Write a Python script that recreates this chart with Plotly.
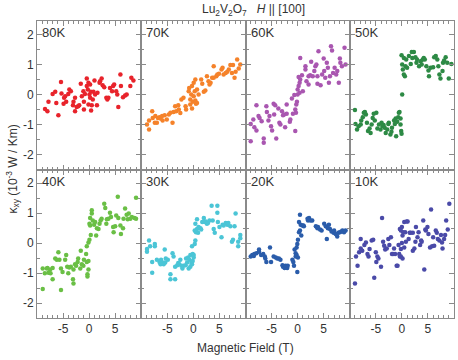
"""Thermal Hall panels for Lu2V2O7, H || [100], one panel per temperature."""
import plotly.graph_objects as go
from plotly.subplots import make_subplots

temps = ["80K", "70K", "60K", "50K", "40K", "30K", "20K", "10K"]
colors = ["#e8232b", "#f5822a", "#a956b0", "#2d8a45",
          "#6abf45", "#4bc5d6", "#2a5caa", "#4a4aa8"]

field_80k = [-8.46, -8.0, -7.8, -6.3, -5.9, -7.0, -6.5, -5.4, -5.3, -4.9, -4.8, -4.4, -4.6, -4.0,
             -3.8, -3.5, -3.1, -3.0, -2.7, -2.4, -2.7, -2.1, -1.9, -1.6, -1.4, -1.1, -1.0, -1.0,
             -0.8, -0.45, -0.45, -0.26, -0.13, -0.13, 0.06, 0.19, 0.19, 0.32, 0.38, 0.51, 0.7,
             0.83, 1.03, 1.15, 1.5, 1.6, 2.0, 2.1, 2.4, 2.6, 2.9, 3.3, 3.5, 3.7, 4.0, 4.4, 4.6,
             4.8, 5.2, 5.4, 5.6, 6.0, 6.1, 6.5, 6.9, 7.2, 7.9, 8.1, 8.5]
kxy_80k = [-0.48, -0.56, -0.24, -0.28, -0.69, 0.02, 0.09, 0.42, 0.03, -0.31, -0.11, -0.24, -0.06,
           0.02, 0.17, 0.11, -0.36, -0.24, -0.56, -0.42, -0.11, -0.39, -0.36, 0.36, -0.06, 0.11,
           -0.5, -0.24, 0.02, 0.53, 0.28, 0.17, 0.39, -0.33, 0.0, 0.33, -0.11, 0.09, -0.53, -0.36,
           -0.17, 0.09, 0.47, 0.0, -0.36, 0.06, 0.39, 0.44, 0.53, 0.31, 0.24, -0.11, -0.17, -0.11,
           0.22, 0.11, 0.28, 0.33, 0.11, 0.0, -0.42, 0.67, 0.28, -0.09, -0.03, 0.0, 0.28, 0.56, 0.47]

field_70k = [-8.9, -8.5, -8.5, -7.9, -7.8, -7.4, -7.3, -7.0, -6.8, -6.5, -6.3, -6.0, -5.9, -5.5,
             -5.1, -4.7, -4.4, -4.0, -3.8, -3.5, -3.3, -2.9, -2.8, -2.5, -2.3, -1.9, -1.5, -1.4,
             -0.9, -0.8, -0.6, -0.6, -0.4, -0.26, -0.26, -0.13, 0.06, 0.06, 0.26, 0.38, 0.38, 0.5,
             0.7, 0.7, 1.0, 1.5, 1.7, 2.0, 2.3, 2.6, 2.9, 3.1, 3.3, 3.6, 3.9, 3.9, 4.4, 4.6, 4.9,
             5.4, 5.6, 5.8, 6.2, 6.5, 6.8, 7.1, 7.4, 7.6, 7.9, 8.1, 8.4, 8.7, 9.0]
kxy_70k = [-1.0, -1.17, -0.87, -0.56, -0.78, -0.94, -0.72, -0.94, -0.78, -0.76, -0.8, -0.72, -0.87,
           -0.69, -0.83, -0.67, -0.61, -0.94, -0.58, -0.39, -0.56, -0.36, -0.5, -0.62, -0.17, -0.11,
           -0.39, -0.5, 0.11, 0.22, -0.17, -0.33, 0.0, 0.28, -0.47, -0.24, 0.39, -0.06, 0.11, -0.2,
           0.5, -0.31, -0.28, 0.17, 0.0, 0.5, 0.36, 0.09, 0.13, 0.61, 0.44, 0.33, 0.39, 0.56, 0.94,
           0.56, 0.61, 0.67, 0.69, 0.83, 0.89, 0.67, 0.72, 0.76, 0.83, 0.98, 0.72, 0.98, 0.56, 0.76,
           1.17, 0.87, 1.0]

field_60k = [-9.0, -9.0, -8.5, -8.3, -7.9, -7.9, -7.5, -7.3, -6.9, -6.5, -6.5, -6.0, -5.9, -5.6,
             -5.4, -5.1, -4.9, -4.6, -4.5, -4.3, -4.1, -3.7, -3.5, -3.3, -3.0, -2.8, -2.6, -2.4,
             -2.1, -2.1, -1.5, -1.4, -1.1, -0.9, -0.64, -0.45, -0.45, -0.32, -0.26, -0.13, 0.0,
             0.0, 0.19, 0.19, 0.38, 0.38, 0.5, 0.5, 0.83, 1.0, 1.5, 1.5, 1.7, 2.1, 2.1, 2.4, 2.6,
             2.9, 3.2, 3.4, 3.6, 3.8, 3.8, 4.0, 4.4, 4.7, 5.0, 5.1, 5.3, 5.6, 5.8, 6.0, 6.2, 6.4,
             6.6, 6.8, 7.1, 7.4, 7.6, 7.9, 8.1, 8.2, 8.5, 9.0, 9.2]
kxy_60k = [-1.56, -0.98, -0.83, -1.09, -1.2, -0.36, -0.72, -0.78, -0.89, -1.47, -1.61, -0.39, -0.58,
           -0.87, -0.72, -1.06, -1.2, -0.31, -0.67, -0.36, -1.47, -0.47, -0.94, -1.0, -0.56, -0.69,
           -0.67, -1.09, -0.64, -0.33, -0.91, -0.83, -0.13, -0.64, -0.02, -1.22, -0.5, -0.61, -0.33,
           -0.24, 0.0, 0.17, 0.28, 0.58, 0.39, 0.06, 0.5, 1.22, 0.64, 0.11, 0.94, 0.83, 0.44, 0.33,
           0.61, 0.64, 1.09, 0.61, 0.78, 0.94, 1.0, 0.61, 0.36, 1.44, 0.31, 0.67, 1.2, 0.78, 0.56,
           1.06, 0.89, 0.39, 0.61, 1.61, 1.47, 0.72, 0.89, 0.67, 0.78, 0.39, 1.2, 1.06, 0.94, 1.56,
           1.0]

field_50k = [-9.0, -8.9, -8.6, -8.3, -7.9, -7.8, -7.5, -7.3, -7.1, -6.9, -6.7, -6.5, -6.2, -6.0,
             -5.8, -5.6, -5.4, -5.2, -4.9, -4.7, -4.4, -4.1, -3.9, -3.7, -3.5, -3.3, -3.1, -2.8,
             -2.6, -2.5, -2.2, -2.0, -1.9, -1.5, -1.35, -1.2, -1.1, -0.9, -0.7, -0.58, -0.45, -0.26,
             -0.26, -0.13, -0.06, 0.06, -0.06, 0.06, 0.19, 0.38, 0.38, 0.58, 0.7, 0.83, 1.0, 1.35,
             1.7, 1.9, 2.0, 2.3, 2.6, 2.8, 2.9, 3.3, 3.6, 3.8, 4.0, 4.2, 4.4, 4.7, 5.1, 5.2, 5.5,
             6.0, 6.2, 6.5, 6.8, 7.0, 7.2, 7.4, 7.8, 7.9, 8.1, 8.4, 8.7, 9.0, 9.5]
kxy_50k = [-0.52, -0.98, -1.17, -1.06, -1.0, -0.87, -0.76, -0.61, -0.58, -0.67, -0.94, -1.22, -1.13,
           -1.28, -1.0, -0.78, -0.64, -0.87, -0.61, -1.13, -1.0, -1.17, -0.94, -1.06, -1.02, -1.11,
           -1.28, -1.17, -0.98, -0.94, -1.33, -1.24, -1.11, -0.87, -0.98, -0.8, -1.39, -0.91, -0.76,
           -0.61, -0.58, -0.8, -1.0, -1.22, -1.31, 0.0, 1.31, 1.0, 0.83, 0.67, 1.22, 0.61, 0.94,
           1.17, 0.89, 1.28, 1.02, 1.42, 1.22, 1.42, 1.24, 1.06, 1.17, 0.94, 1.11, 1.0, 1.17, 1.22,
           1.17, 0.94, 0.8, 0.61, 0.89, 0.91, 1.24, 1.28, 1.17, 0.94, 0.67, 0.53, 0.78, 1.06, 1.13,
           1.24, 1.06, 0.53, 1.02]

field_40k = [-8.9, -8.9, -8.5, -8.1, -8.0, -7.8, -7.5, -7.4, -7.0, -7.0, -6.5, -6.2, -5.9, -5.7,
             -5.4, -5.4, -5.1, -4.6, -4.4, -4.2, -4.0, -3.8, -3.5, -3.1, -3.0, -3.0, -2.7, -2.5,
             -2.2, -2.1, -1.7, -1.6, -1.4, -1.1, -1.0, -0.58, -0.45, -0.45, -0.32, -0.32, -0.13,
             -0.13, -0.13, 0.06, 0.06, 0.19, 0.19, 0.32, 0.51, 0.51, 0.7, 0.96, 1.15, 1.35, 1.5,
             1.8, 2.0, 2.2, 2.4, 2.9, 3.1, 3.3, 3.4, 3.7, 4.0, 4.2, 4.6, 4.7, 5.0, 5.2, 5.5, 5.6,
             6.0, 6.1, 6.5, 6.6, 6.9, 7.2, 7.4, 7.6, 7.9, 8.2, 8.7, 9.0, 9.0]
kxy_40k = [-1.53, -0.85, -1.01, -0.85, -0.83, -0.99, -0.88, -1.01, -1.21, -0.83, -0.52, -0.56, -0.31,
           -0.56, -1.57, -0.85, -0.97, -0.56, -0.4, -0.79, -1.01, -0.82, -0.79, -1.21, -1.35, -0.88,
           -0.71, -0.76, -0.63, -0.52, -0.85, -0.26, -0.71, -0.76, -0.56, -0.37, -0.63, -0.11, -1.04,
           -1.12, -0.6, -0.88, 0.02, 0.11, 0.64, 0.83, 0.58, 0.27, 0.98, 1.09, 0.75, 0.61, 0.7, 0.25,
           0.49, 0.47, 0.64, 0.75, 0.81, 1.31, 1.17, 0.64, 0.79, 0.81, 1.01, 0.87, 0.53, 0.36, 0.56,
           0.92, 1.54, 0.83, 0.58, 0.3, 0.49, 0.81, 1.15, 0.94, 0.79, 0.98, 0.81, 0.87, 0.83, 1.51,
           0.81]

field_30k = [-8.9, -8.9, -8.5, -8.3, -7.9, -7.9, -7.4, -7.4, -7.0, -6.5, -6.3, -6.2, -5.9, -5.7,
             -5.5, -5.4, -5.3, -4.9, -4.4, -4.4, -4.0, -3.8, -3.5, -3.5, -3.1, -2.9, -2.7, -2.5,
             -2.3, -2.1, -1.9, -1.5, -1.4, -1.2, -1.0, -0.9, -0.77, -0.58, -0.58, -0.38, -0.26,
             -0.26, -0.13, -0.13, 0.06, 0.06, 0.26, 0.38, 0.26, 0.38, 0.5, 0.7, 0.7, 0.9, 1.0, 1.35,
             1.5, 1.7, 2.0, 2.2, 2.4, 2.6, 2.8, 3.1, 3.5, 3.7, 3.9, 4.1, 4.6, 4.6, 4.7, 5.0, 5.4,
             5.6, 5.8, 6.2, 6.5, 6.7, 7.1, 7.4, 7.6, 7.9, 8.1, 8.6, 8.6, 9.0, 9.0]
kxy_30k = [-0.2, -0.29, 0.08, -0.11, -0.63, -0.99, -0.03, -0.11, -0.56, -0.63, -0.71, -0.56, -0.65,
           -0.71, -0.22, -0.65, -0.52, -0.56, -1.04, -1.21, -0.34, -0.45, -1.21, -0.79, -0.74, -0.67,
           -0.71, -0.56, -0.76, -0.85, -0.76, -0.74, -0.52, -0.65, -0.48, -0.85, -0.56, -0.4, -0.79,
           -0.67, -0.71, -0.11, -0.37, -0.6, -0.48, -0.4, -0.03, 0.08, 0.42, 0.64, 0.36, 0.79, 0.47,
           0.34, 0.53, 0.49, 0.45, 0.7, 0.83, 0.7, 0.72, 0.64, 0.67, 0.75, 1.24, 0.75, 0.47, 0.34,
           1.24, 1.01, 0.7, 0.53, 0.19, 0.61, 0.58, 0.67, 0.61, 0.67, 0.56, 0.04, 0.11, 0.56, 0.98,
           -0.11, 0.04, 0.27, 0.16]

field_20k = [-9.0, -8.7, -8.4, -8.3, -7.9, -7.4, -7.4, -7.0, -6.6, -6.3, -6.2, -6.0, -5.3, -5.1,
             -4.6, -4.2, -3.9, -3.6, -3.3, -2.9, -2.8, -2.5, -2.3, -2.0, -1.9, -1.0, -0.83, -0.7,
             -0.58, -0.38, -0.38, -0.19, -0.19, -0.06, -0.06, 0.06, 0.06, 0.26, 0.26, 0.45, 0.45,
             0.58, 0.7, 0.9, 1.1, 1.2, 1.9, 2.0, 2.2, 2.5, 2.8, 3.5, 3.8, 3.9, 4.3, 4.6, 5.1, 5.4,
             5.6, 5.8, 6.0, 6.2, 6.5, 6.9, 7.0, 7.3, 7.6, 7.8, 8.1, 8.4, 8.6, 8.9, 9.2]
kxy_20k = [-0.45, -0.4, -0.43, -0.37, -0.34, -0.22, -0.29, -0.4, -0.37, -0.45, -0.52, -0.63, -0.15,
           -0.63, -0.45, -0.48, -0.52, -0.52, -0.56, -0.74, -0.79, -0.83, -0.76, -0.83, -0.76, -0.56,
           -0.63, -0.76, -0.22, -0.45, -0.34, -0.4, -0.15, -0.03, -0.97, -0.48, 0.11, 0.36, 0.7,
           0.42, 0.94, 0.61, 0.25, 0.58, 0.58, 0.56, 0.81, 0.75, 0.83, 0.75, 0.75, 0.56, 0.49, 0.53,
           0.45, 0.42, 0.64, 0.56, 0.13, 0.49, 0.61, 0.47, 0.38, 0.34, 0.42, 0.3, 0.22, 0.34, 0.36,
           0.38, 0.42, 0.36, 0.42]

field_10k = [-9.0, -8.8, -8.5, -8.2, -7.9, -7.9, -7.6, -7.2, -6.9, -6.6, -6.4, -6.2, -5.8, -5.5,
             -5.3, -5.0, -4.9, -4.7, -4.5, -4.0, -3.8, -3.6, -3.4, -3.2, -2.9, -2.6, -2.4, -2.1,
             -1.9, -1.7, -1.5, -1.3, -1.0, -0.83, -0.64, -0.51, -0.38, -0.38, -0.19, -0.19, -0.19,
             0.0, 0.0, 0.13, 0.13, 0.26, 0.45, 0.45, 0.64, 0.77, 0.9, 1.1, 1.3, 1.5, 1.7, 2.1, 2.1,
             2.4, 2.6, 2.7, 3.0, 3.2, 3.5, 3.7, 3.8, 4.1, 4.3, 4.5, 4.6, 4.9, 5.1, 5.4, 5.6, 5.8,
             6.0, 6.2, 6.5, 6.7, 6.9, 7.2, 7.5, 7.7, 7.8, 8.1, 8.3, 8.5, 8.8, 9.1]
kxy_10k = [-1.35, -0.45, -0.76, -0.31, 0.13, -0.18, -0.26, -0.07, 0.02, -0.37, -0.45, -0.2, 0.08,
           0.11, -1.16, -0.31, -0.63, -0.45, -0.52, -0.79, 0.83, 0.04, -0.09, -0.22, -0.18, 0.13,
           -0.07, 0.19, -0.37, -0.37, -0.18, -0.37, -0.76, -0.76, -0.07, -0.37, -0.45, 0.47, 0.42,
           -0.2, -0.45, 0.53, 0.0, -0.52, 0.25, 0.36, 0.7, -0.15, 0.36, 0.04, 0.72, 0.72, 0.13, 0.34,
           0.34, 0.34, -0.26, -0.18, 0.04, 0.53, 0.19, 0.36, -0.07, 0.08, 0.04, 0.75, -0.88, 0.45,
           0.42, 0.53, 0.3, -0.15, 1.12, -0.11, 0.19, -0.09, 0.42, 0.34, 0.13, 0.08, 0.27, 0.02,
           -0.18, 0.13, 0.27, 0.75, 0.45, 1.31]

fields = [field_80k, field_70k, field_60k, field_50k, field_40k, field_30k, field_20k, field_10k]
kxys = [kxy_80k, kxy_70k, kxy_60k, kxy_50k, kxy_40k, kxy_30k, kxy_20k, kxy_10k]

x_ticks = [-5, 0, 5]
x_tick_labels = ["-5", "0", "5"]
y_ticks = [-2, -1, 0, 1, 2]
y_tick_labels = ["-2", "-1", "0", "1", "2"]

FONT = "Liberation Sans, Arial, sans-serif"
AXIS_GRAY = "#8a8a8a"

fig = make_subplots(rows=2, cols=4, shared_xaxes=True, shared_yaxes=True,
                    horizontal_spacing=0, vertical_spacing=0)

for i, (t, c) in enumerate(zip(temps, colors)):
    row, col = i // 4 + 1, i % 4 + 1
    fig.add_trace(
        go.Scatter(x=fields[i], y=kxys[i], mode="markers",
                   marker=dict(color=c, size=4.5), name=t, showlegend=False),
        row=row, col=col,
    )
    fig.add_annotation(text=t, xref="x domain", yref="y domain", x=0.03, y=0.985,
                       xanchor="left", yanchor="top", showarrow=False,
                       font=dict(size=13, color="#333333", family=FONT),
                       row=row, col=col)

fig.update_xaxes(range=[-10, 10], tickvals=x_ticks, ticktext=x_tick_labels,
                 ticks="inside", ticklen=5,
                 tickcolor=AXIS_GRAY, showline=True, linecolor=AXIS_GRAY, linewidth=1,
                 mirror="ticks", showgrid=False, zeroline=False, automargin=False,
                 minor=dict(dtick=1, ticks="inside", ticklen=3, tickcolor=AXIS_GRAY),
                 tickfont=dict(size=12, color="#333333", family=FONT))
fig.update_yaxes(range=[-2.5, 2.45], tickvals=y_ticks, ticktext=y_tick_labels,
                 ticks="inside", ticklen=5,
                 tickcolor=AXIS_GRAY, showline=True, linecolor=AXIS_GRAY, linewidth=1,
                 mirror="ticks", showgrid=False, zeroline=False, automargin=False,
                 minor=dict(dtick=0.5, ticks="inside", ticklen=3, tickcolor=AXIS_GRAY),
                 tickfont=dict(size=12, color="#333333", family=FONT))

fig.add_annotation(text="Lu<sub>2</sub>V<sub>2</sub>O<sub>7</sub>   <i>H</i> || [100]",
                   xref="paper", yref="paper", x=0.52, y=1.0, yshift=11,
                   xanchor="center", yanchor="middle", showarrow=False,
                   font=dict(size=12, color="#333333", family=FONT))
fig.add_annotation(text="Magnetic Field (T)", xref="paper", yref="paper", x=0.5, y=0,
                   yshift=-30, xanchor="center", yanchor="middle", showarrow=False,
                   font=dict(size=12, color="#333333", family=FONT))
fig.add_annotation(text="κ<sub>xy</sub> (10<sup>-3</sup> W / Km)", xref="paper", yref="paper",
                   x=0, y=0.5, xshift=-25, textangle=-90, xanchor="center", yanchor="middle",
                   showarrow=False, font=dict(size=12, color="#333333", family=FONT))

fig.update_layout(width=458, height=360, margin=dict(l=37, r=4, t=21, b=42),
                  plot_bgcolor="white", paper_bgcolor="white")

# drop the browser's default body margin so the 458x360 figure fills the window exactly
fig.write_html("out.html", config={"displayModeBar": False},
               post_script="document.body.style.margin = '0';")
